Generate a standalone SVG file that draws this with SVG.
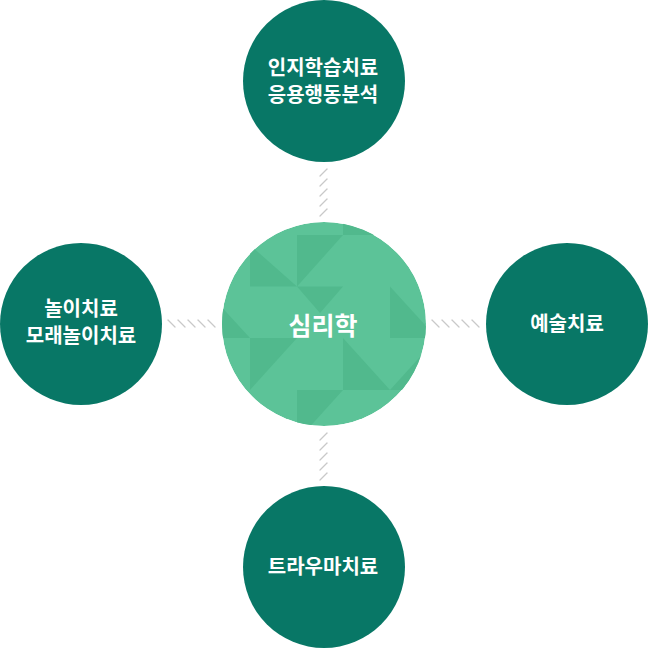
<svg xmlns="http://www.w3.org/2000/svg" width="648" height="648" viewBox="0 0 648 648">
<defs>
<style>
.outer{fill:#087766}
.lbl{font-family:"Noto Sans CJK KR","Noto Sans",sans-serif;font-weight:700;font-size:20px;fill:#ffffff;text-anchor:middle}
.center-lbl{font-family:"Noto Sans CJK KR","Noto Sans",sans-serif;font-weight:700;font-size:25px;fill:#ffffff;text-anchor:middle}
.hatch{stroke:#c9c9c9;stroke-width:1.3;stroke-linecap:round;fill:none}
.dk{fill:#51b98d}
</style>
<clipPath id="cc"><circle cx="324" cy="324" r="102"/></clipPath>
</defs>
<rect width="648" height="648" fill="#ffffff"/>
<g id="connectors">
<g id="conn-top" class="hatch">
<line x1="320" y1="176" x2="327" y2="169"/>
<line x1="320" y1="186" x2="327" y2="179"/>
<line x1="320" y1="196" x2="327" y2="189"/>
<line x1="320" y1="206" x2="327" y2="199"/>
<line x1="320" y1="216" x2="327" y2="209"/>
</g>
<g id="conn-bottom" class="hatch">
<line x1="320" y1="440" x2="327" y2="433"/>
<line x1="320" y1="450" x2="327" y2="443"/>
<line x1="320" y1="460" x2="327" y2="453"/>
<line x1="320" y1="470" x2="327" y2="463"/>
<line x1="320" y1="480" x2="327" y2="473"/>
</g>
<g id="conn-left" class="hatch">
<line x1="168" y1="320" x2="175" y2="327"/>
<line x1="178" y1="320" x2="185" y2="327"/>
<line x1="188" y1="320" x2="195" y2="327"/>
<line x1="198" y1="320" x2="205" y2="327"/>
<line x1="208" y1="320" x2="215" y2="327"/>
</g>
<g id="conn-right" class="hatch">
<line x1="432" y1="320" x2="439" y2="327"/>
<line x1="442" y1="320" x2="449" y2="327"/>
<line x1="452" y1="320" x2="459" y2="327"/>
<line x1="462" y1="320" x2="469" y2="327"/>
<line x1="472" y1="320" x2="479" y2="327"/>
</g>
</g>
<g id="node-center">
<g clip-path="url(#cc)">
<circle cx="324" cy="324" r="102" fill="#5cc398"/>
<rect class="dk" x="343" y="220" width="47" height="15"/>
<polygon class="dk" points="250,245 297,286.5 250,286.5"/>
<polygon class="dk" points="297,235 343,235 297,286.5"/>
<polygon class="dk" points="297,286.5 343,286.5 320,313"/>
<polygon class="dk" points="390,286.5 437,338 390,338"/>
<polygon class="dk" points="215,300 250,338 215,338"/>
<polygon class="dk" points="250,338 297,338 250,390"/>
<polygon class="dk" points="343,338 390,390 343,390"/>
<polygon class="dk" points="390,390 437,338 437,390"/>
<polygon class="dk" points="297,390 343,390 297,441"/>
</g>
<text class="center-lbl" x="323" y="335">심리학</text>
</g>
<g id="node-top">
<circle class="outer" cx="324" cy="81" r="81"/>
<text class="lbl" x="323" y="75">인지학습치료</text>
<text class="lbl" x="323" y="102">응용행동분석</text>
</g>
<g id="node-left">
<circle class="outer" cx="81" cy="324" r="81"/>
<text class="lbl" x="81" y="316">놀이치료</text>
<text class="lbl" x="81" y="343">모래놀이치료</text>
</g>
<g id="node-right">
<circle class="outer" cx="567" cy="324" r="81"/>
<text class="lbl" x="567" y="331">예술치료</text>
</g>
<g id="node-bottom">
<circle class="outer" cx="324" cy="567" r="81"/>
<text class="lbl" x="323" y="574">트라우마치료</text>
</g>
</svg>
